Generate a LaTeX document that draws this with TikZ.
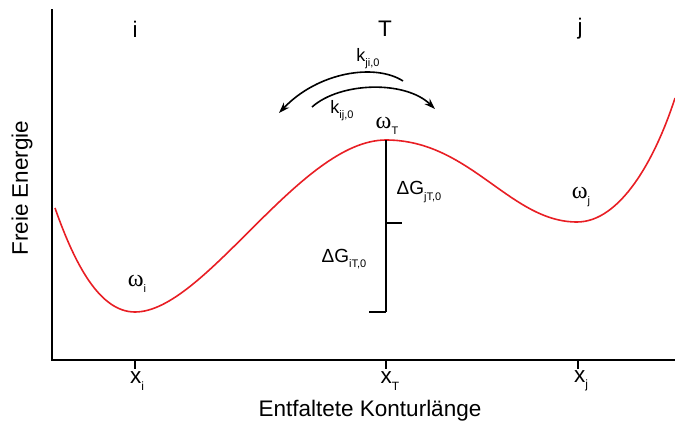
\documentclass[tikz,border=0pt]{standalone}
\usepackage{fontspec}
\setmainfont{Liberation Sans}
\newfontfamily\greekserif{Liberation Serif}
\usetikzlibrary{arrows.meta}
\definecolor{curvered}{RGB}{232,30,36}
\newcommand{\lowsub}[1]{\raisebox{-0.55ex}{\fontsize{12}{12}\selectfont #1}}
\newcommand{\lowsubsmall}[1]{\raisebox{-0.55ex}{\fontsize{11}{11}\selectfont #1}}
\newcommand{\omg}{{\greekserif\fontsize{24}{24}\selectfont ω}}
\tikzset{
  axisline/.style={line width=1.8pt, black},
  curveline/.style={line width=1.6pt, curvered},
  bigtext/.style={inner sep=0pt, font=\fontsize{22.5}{24}\selectfont},
  midtext/.style={inner sep=0pt, font=\fontsize{19}{20}\selectfont},
  ktext/.style={inner sep=0pt, font=\fontsize{18}{19}\selectfont},
  rate/.style={line width=1.6pt, -{Stealth[length=11pt,width=7.5pt]}},
}
\begin{document}
\begin{tikzpicture}[x=1pt,y=-1pt]
\useasboundingbox (0,0) rectangle (675,423);
% axes
\coordinate (ytop) at (52,9);
\coordinate (origin) at (52,360);
\coordinate (xend) at (675,360);
\draw[axisline] (ytop) -- (origin) -- (xend);
% ticks
\foreach \xx/\nm in {135/ti,386/tT,578/tj}{
  \coordinate (\nm) at (\xx,360);
  \draw[axisline] (\nm) -- ++(0,9);
}
% axis labels
\node[bigtext, rotate=90] (ylab) at (22,188) {Freie Energie};
\node[bigtext] (xlab) at (370,411) {Entfaltete Konturlänge};
\node[bigtext] (xi) at (137,381) {x\lowsub{i}};
\node[bigtext] (xT) at (390,381) {x\lowsub{T}};
\node[bigtext] (xj) at (581,381) {x\lowsub{j}};
% state labels
\node[bigtext] (si) at (135,29) {i};
\node[bigtext] (sT) at (385,29) {T};
\node[bigtext] (sj) at (580,29) {j};
% energy curve
\draw[curveline] (55,208) .. controls (75,265) and (100,312) .. (135,312)
  .. controls (205,312) and (300,140) .. (386,140)
  .. controls (470,140) and (510,222) .. (577,222)
  .. controls (620,222) and (655,160) .. (675,98);
% barrier bar
\coordinate (peak) at (386,140);
\coordinate (mid) at (386,223);
\coordinate (low) at (386,312);
\coordinate (midend) at (402,223);
\coordinate (lowend) at (369,312);
\draw[axisline, line width=1.6pt] (peak) -- (low);
\draw[axisline, line width=1.6pt] (mid) -- (midend);
\draw[axisline, line width=1.6pt] (lowend) -- (low);
% omega labels
\node[midtext] (wi) at (137,284) {\omg\lowsubsmall{i}};
\node[midtext] (wT) at (387,126) {\omg\lowsubsmall{T}};
\node[midtext] (wj) at (581,197) {\omg\lowsubsmall{j}};
% delta G labels
\node[midtext] (gj) at (419,192) {ΔG\lowsubsmall{jT,0}};
\node[midtext] (gi) at (344,259) {ΔG\lowsubsmall{iT,0}};
% rate arrows
\coordinate (a1s) at (403,81);
\coordinate (a1e) at (279,113);
\coordinate (a2s) at (312,107);
\coordinate (a2e) at (435,109);
\draw[rate] (a1s) .. controls (375,63) and (318,72) .. (a1e);
\draw[rate] (a2s) .. controls (340,82) and (405,80) .. (a2e);
\node[ktext] (kji) at (368,59) {k\lowsubsmall{ji,0}};
\node[ktext] (kij) at (342,111) {k\lowsubsmall{ij,0}};
\end{tikzpicture}
\end{document}
